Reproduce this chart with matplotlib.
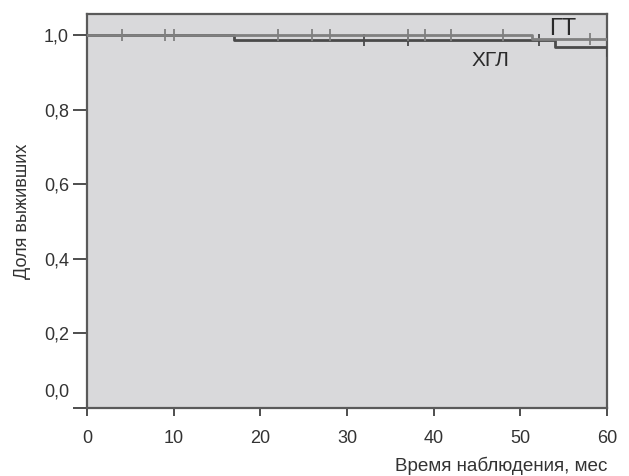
import matplotlib
matplotlib.use("Agg")
import matplotlib.pyplot as plt
import matplotlib.transforms as mtransforms

plt.rcParams['font.family'] = ['Liberation Sans', 'DejaVu Sans']

# ГТ group
gt_times = [0, 51.3, 60]
gt_surv = [1.0, 0.99, 0.99]
gt_censor_t = [4, 9, 10, 22, 26, 28, 37, 39, 42, 48, 58]
gt_censor_s = [1.0] * 10 + [0.99]

# ХГЛ group
hgl_times = [0, 17, 54, 60, 60]
hgl_surv = [1.0, 0.987, 0.968, 0.948, 0.948]
hgl_censor_t = [32, 37, 52.2]
hgl_censor_s = [0.987, 0.987, 0.987]

yticks = [0.0, 0.2, 0.4, 0.6, 0.8, 1.0]
ytick_labels = ["0,0", "0,2", "0,4", "0,6", "0,8", "1,0"]
xticks = [0, 10, 20, 30, 40, 50, 60]

fig = plt.figure(figsize=(6.29, 4.76), dpi=100)
ax = fig.add_axes([87/629, 68/476, 520/629, 394/476])
ax.set_facecolor('#d9d9db')

hgl_col = '#4a4a4a'
gt_col = '#808080'

ax.step(hgl_times, hgl_surv, where='post', color=hgl_col, lw=2.0, zorder=3)
ax.plot(hgl_censor_t, hgl_censor_s, ls='none', marker='|', ms=8, mew=1.3, color=hgl_col, zorder=3)
ax.step(gt_times, gt_surv, where='post', color=gt_col, lw=2.0, zorder=4)
ax.plot(gt_censor_t, gt_censor_s, ls='none', marker='|', ms=8, mew=1.3, color=gt_col, zorder=4)

ax.set_xlim(0, 60)
ax.set_ylim(0, 1.0577)

ax.set_yticks(yticks)
ax.set_yticklabels(ytick_labels)
ax.set_xticks(xticks)

for s in ax.spines.values():
    s.set_color('#5a5a5a')
    s.set_linewidth(1.6)

ax.tick_params(axis='y', direction='out', length=10, width=1.3, color='#404040',
               labelsize=13, labelcolor='#333333', pad=3)
ax.tick_params(axis='x', direction='out', length=6, width=1.3, color='#404040',
               labelsize=13, labelcolor='#333333', pad=10)

# shift the 0,0 label upward as in the reference
lbl0 = ax.get_yticklabels()[0]
lbl0.set_transform(lbl0.get_transform() + mtransforms.ScaledTranslation(0, 18/100, fig.dpi_scale_trans))

ax.set_ylabel("Доля выживших", fontsize=13, color='#333333', labelpad=9)
fig.text(607/629, 1 - 471/476, "Время наблюдения, мес", fontsize=13.6, color='#333333',
         ha='right', va='baseline')

ax.text(54.9, 0.987, "ГТ", fontsize=17, color='#2a2a2a', ha='center', va='bottom')
ax.text(46.5, 0.959, "ХГЛ", fontsize=15, color='#2a2a2a', ha='center', va='top')

fig.savefig("out.png", dpi=100, facecolor='white')
